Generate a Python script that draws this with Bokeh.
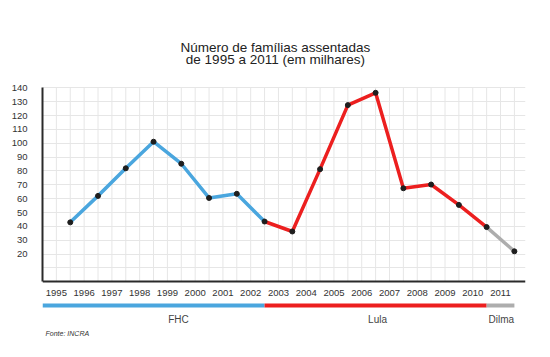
from bokeh.plotting import figure
from bokeh.models import Range1d, FixedTicker
from bokeh.core.properties import value
from bokeh.embed import file_html
from bokeh.resources import INLINE
import numpy as np

# ---- data ----
years = list(range(1995, 2012))
familias = [42.9, 62.0, 81.9, 101.1, 85.2, 60.5, 63.5, 43.5, 36.3, 81.3,
            127.5, 136.4, 67.5, 70.2, 55.5, 39.5, 22.0]
governos = ["FHC", "Lula", "Dilma"]
gov_inicio = [1995, 2002, 2010]   # first year of each coloured stretch
gov_fim = [2002, 2010, 2011]      # last year of each coloured stretch
gov_cores = ["#4AA6DE", "#EC1F1F", "#ADADAD"]
y_ticks = [20, 30, 40, 50, 60, 70, 80, 90, 100, 110, 120, 130, 140]
title_lines = ["Número de famílias assentadas", "de 1995 a 2011 (em milhares)"]
fonte = "Fonte: INCRA"

FONT = "Liberation Sans"

# index positions: year labels sit at i, points at i + 0.5
idx = np.arange(len(years))
px = idx + 0.5

p = figure(width=550, height=357, output_backend="svg", toolbar_location=None,
           x_range=Range1d(-0.5, 16.9), y_range=Range1d(-54.63, 203.0),
           min_border_left=42, min_border_right=25, min_border_top=0,
           min_border_bottom=0, x_axis_location="below")
p.outline_line_color = None
p.background_fill_color = "white"
p.border_fill_color = "white"

# y axis
p.yaxis.bounds = (0, 140)
p.yaxis.ticker = FixedTicker(ticks=y_ticks)
p.yaxis.major_tick_line_color = None
p.yaxis.minor_tick_line_color = None
p.yaxis.axis_line_width = 2
p.yaxis.axis_line_color = "#2a2a2a"
p.yaxis.major_label_standoff = 9
p.yaxis.major_label_text_font = FONT
p.yaxis.major_label_text_font_size = "9.5px"
p.yaxis.major_label_text_color = "#333333"

# x axis at y = 0
p.xaxis.fixed_location = 0
p.xaxis.bounds = (-0.5, 16.9)
p.xaxis.ticker = FixedTicker(ticks=list(idx))
p.xaxis.major_label_overrides = {int(i): str(y) for i, y in zip(idx, years)}
p.xaxis.major_tick_line_color = None
p.xaxis.minor_tick_line_color = None
p.xaxis.axis_line_width = 2
p.xaxis.axis_line_color = "#2a2a2a"
p.xaxis.major_label_standoff = 2
p.xaxis.major_label_text_font = FONT
p.xaxis.major_label_text_font_size = "9.5px"
p.xaxis.major_label_text_color = "#333333"

# grid
p.xgrid.visible = False
p.ygrid.ticker = FixedTicker(ticks=[10] + y_ticks)
p.ygrid.grid_line_color = "#e6e6e6"
p.ygrid.grid_line_width = 1
vx = np.arange(0, 16.51, 0.5)
p.segment(x0=vx, y0=0, x1=vx, y1=140, line_color="#e6e6e6", line_width=1)

# data line coloured by government
yi = {y: i for i, y in enumerate(years)}
for g, a, b, c in zip(governos, gov_inicio, gov_fim, gov_cores):
    s, e = yi[a], yi[b]
    p.line(px[s:e + 1], familias[s:e + 1], line_color=c, line_width=3.5,
           line_join="round")
p.scatter(px, familias, size=5, color="#1e1e1e")

# government bar under the axis
bar_y = -17.1
bar_x0 = [-0.5] + [yi[a] + 0.5 for a in gov_inicio[1:]]
bar_x1 = [yi[b] + 0.5 for b in gov_fim]
p.segment(x0=bar_x0, y0=bar_y, x1=bar_x1, y1=bar_y, line_color=gov_cores,
          line_width=4, line_cap="butt")
lab_x = [4.4, 11.57, 16.03]
p.text(x=lab_x, y=[-27.2] * 3, text=governos, text_font=value(FONT),
       text_font_size="10px", text_color="#444444", text_align="center",
       text_baseline="middle")

# source
p.text(x=[-0.39], y=[-37.3], text=[fonte], text_font=value(FONT),
       text_font_size="7px", text_font_style="italic", text_color="#333333",
       text_align="left", text_baseline="middle")

# title
p.text(x=[7.89, 7.89], y=[169.3, 160.2], text=title_lines, text_font=value(FONT),
       text_font_size="13.5px", text_color="#222222", text_align="center",
       text_baseline="alphabetic")

open("out.html", "w").write(file_html(p, INLINE))
